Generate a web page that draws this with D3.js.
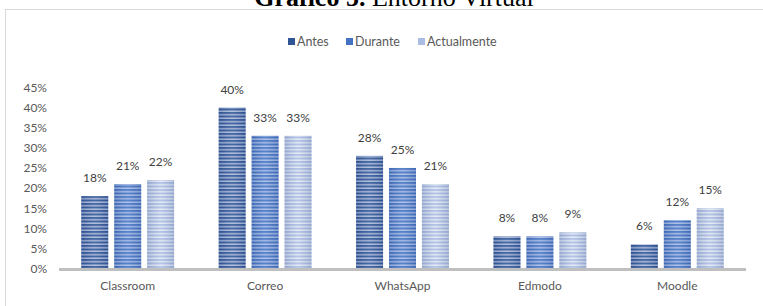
<!DOCTYPE html>
<html>
<head>
<meta charset="utf-8">
<script src="https://cdn.jsdelivr.net/npm/d3@7"></script>
<style>
  body { margin: 0; background: #fff; }
  svg { display: block; }
  text { font-family: Lato, "Open Sans", sans-serif; }
</style>
</head>
<body>
<div id="chart"></div>
<script>
// data
const categories = ["Classroom", "Correo", "WhatsApp", "Edmodo", "Moodle"];
const seriesNames = ["Antes", "Durante", "Actualmente"];
const antes = [18, 40, 28, 8, 6];
const durante = [21, 33, 25, 8, 12];
const actualmente = [22, 33, 21, 9, 15];
const yTicks = [0, 5, 10, 15, 20, 25, 30, 35, 40, 45];

const values = [antes, durante, actualmente];
const dark = ["#2f5597", "#4472c4", "#aabce3"];
const light = ["#a9b9da", "#a4bbe6", "#e3e9f6"];

const width = 763, height = 306;

const svg = d3.select("#chart").append("svg")
  .attr("width", width)
  .attr("height", height);

const defs = svg.append("defs");

// striped fills
seriesNames.forEach(function(s, i) {
  const p = defs.append("pattern")
    .attr("id", "stripe" + i)
    .attr("patternUnits", "userSpaceOnUse")
    .attr("width", 4).attr("height", 3.5);
  p.append("rect").attr("width", 4).attr("height", 3.5).attr("fill", light[i]);
  p.append("rect").attr("width", 4).attr("height", 2).attr("fill", dark[i]);
});

// soft shading across each bar
const shade = defs.append("linearGradient").attr("id", "shade");
shade.append("stop").attr("offset", "0%").attr("stop-color", "#1f3a70").attr("stop-opacity", 0.18);
shade.append("stop").attr("offset", "50%").attr("stop-color", "#ffffff").attr("stop-opacity", 0.12);
shade.append("stop").attr("offset", "100%").attr("stop-color", "#1f3a70").attr("stop-opacity", 0.18);

// title (cut at the top of the picture, as in the source)
const title = svg.append("text")
  .attr("x", 394).attr("y", 6)
  .attr("text-anchor", "middle")
  .style("font-family", "'Liberation Serif', 'Times New Roman', serif")
  .style("font-size", "26px")
  .attr("fill", "#000");
title.append("tspan").style("font-weight", "bold").text("Gráfico 5.");
title.append("tspan").text(" Entorno Virtual");

// chart frame
svg.append("rect")
  .attr("x", 5.5).attr("y", 9.5)
  .attr("width", 820).attr("height", 330)
  .attr("fill", "none")
  .attr("stroke", "#d9d9d9");

// legend
const legendX = [288, 346, 418];
const legend = svg.append("g");
seriesNames.forEach(function(s, i) {
  const g = legend.append("g").attr("transform", "translate(" + legendX[i] + ",42)");
  g.append("rect").attr("x", 0).attr("y", -4).attr("width", 7).attr("height", 7).attr("fill", dark[i]);
  g.append("text").attr("x", 9).attr("y", 4)
    .style("font-size", "12.5px").attr("fill", "#595959").text(s);
});

// scales
const x = d3.scaleBand().domain(categories).range([59, 746]).paddingInner(0.324).paddingOuter(0.162);
const xInner = d3.scaleBand().domain(seriesNames).range([0, x.bandwidth()]).paddingInner(0.18);
const y = d3.scaleLinear().domain([0, 45]).range([268.5, 87.5]);

// y axis labels
const yAxis = svg.append("g").attr("transform", "translate(47,0)")
  .call(d3.axisLeft(y).tickValues(yTicks).tickSize(0).tickPadding(0).tickFormat(function(d) { return d + "%"; }));
yAxis.select(".domain").remove();
yAxis.selectAll("text").style("font-size", "12px").attr("fill", "#595959").style("font-family", "Lato, sans-serif");

// bars
const groups = svg.selectAll(".group")
  .data(categories)
  .enter().append("g")
  .attr("class", "group")
  .attr("transform", function(d) { return "translate(" + x(d) + ",0)"; });

groups.each(function(cat, ci) {
  const g = d3.select(this);
  seriesNames.forEach(function(s, si) {
    const v = values[si][ci];
    const bx = xInner(s), bw = xInner.bandwidth();
    g.append("rect")
      .attr("x", bx).attr("y", y(v))
      .attr("width", bw).attr("height", y(0) - y(v))
      .attr("fill", "url(#stripe" + si + ")");
    g.append("rect")
      .attr("x", bx).attr("y", y(v))
      .attr("width", bw).attr("height", y(0) - y(v))
      .attr("fill", "url(#shade)");
    g.append("text")
      .attr("x", bx + bw / 2).attr("y", y(v) - 14)
      .attr("text-anchor", "middle")
      .style("font-size", "12px").attr("fill", "#404040")
      .text(v + "%");
  });
});

// x axis
svg.append("line")
  .attr("x1", 59).attr("x2", 746)
  .attr("y1", 269.5).attr("y2", 269.5)
  .attr("stroke", "#bfbfbf").attr("stroke-width", 3);

svg.selectAll(".cat")
  .data(categories)
  .enter().append("text")
  .attr("class", "cat")
  .attr("x", function(d) { return x(d) + x.bandwidth() / 2; })
  .attr("y", 290)
  .attr("text-anchor", "middle")
  .style("font-size", "12px").attr("fill", "#595959")
  .text(function(d) { return d; });
</script>
</body>
</html>
